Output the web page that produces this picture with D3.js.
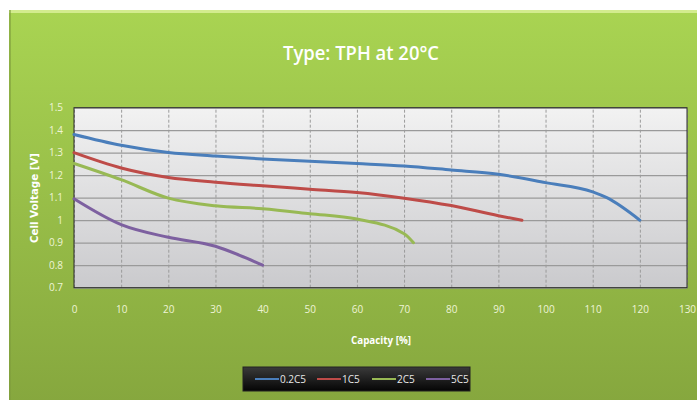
<!DOCTYPE html>
<html><head><meta charset="utf-8">
<script src="https://cdn.jsdelivr.net/npm/d3@7"></script>
<style>html,body{margin:0;padding:0;background:#fff;overflow:hidden}</style>
</head><body><svg id="c" width="697" height="400"></svg>
<script>
const xTicks = [0,10,20,30,40,50,60,70,80,90,100,110,120,130];
const yTicks = [0.7,0.8,0.9,1,1.1,1.2,1.3,1.4,1.5];
const seriesNames = ["0.2C5","1C5","2C5","5C5"];
const seriesColors = ["#4a7ebb","#be4b48","#98b954","#7d60a0"];
const cap02 = [0,10,20,30,40,50,60,70,80,90,100,110,113,120];
const v02   = [1.381,1.333,1.301,1.285,1.272,1.262,1.252,1.241,1.223,1.204,1.167,1.126,1.1,1.0];
const cap1  = [0,10,20,30,40,50,60,70,80,90,95];
const v1    = [1.30,1.232,1.19,1.169,1.153,1.138,1.123,1.098,1.065,1.02,1.0];
const cap2  = [0,10,20,30,40,50,60,70,72];
const v2    = [1.252,1.18,1.098,1.064,1.051,1.029,1.005,0.94,0.9];
const cap5  = [0,10,20,30,35,40];
const v5    = [1.095,0.98,0.924,0.884,0.845,0.80];

const svg = d3.select("#c");
const defs = svg.append("defs");
const g1 = defs.append("linearGradient").attr("id","bg").attr("x1",0).attr("y1",0).attr("x2",0).attr("y2",1);
g1.append("stop").attr("offset","0").attr("stop-color","#a9d452");
g1.append("stop").attr("offset","1").attr("stop-color","#86a73e");
const g2 = defs.append("linearGradient").attr("id","pa").attr("x1",0).attr("y1",0).attr("x2",0).attr("y2",1);
g2.append("stop").attr("offset","0").attr("stop-color","#f2f2f2");
g2.append("stop").attr("offset","1").attr("stop-color","#cacacd");
const g3 = defs.append("linearGradient").attr("id","lg").attr("x1",0).attr("y1",0).attr("x2",0).attr("y2",1);
g3.append("stop").attr("offset","0").attr("stop-color","#3a3a3a");
g3.append("stop").attr("offset","1").attr("stop-color","#050505");

// panel
svg.append("rect").attr("x",9).attr("y",10).attr("width",690).attr("height",392).attr("fill","url(#bg)");
svg.append("rect").attr("x",9).attr("y",10).attr("width",690).attr("height",3).attr("fill","#d3ec8e");
svg.append("rect").attr("x",9).attr("y",10).attr("width",2).attr("height",392).attr("fill","#7f9c3c").attr("opacity",0.6);

const L=74, R=687, T=107.7, B=287.7;
const x = d3.scaleLinear().domain([0,130]).range([L,R]);
const y = d3.scaleLinear().domain([0.7,1.5]).range([B,T]);

svg.append("rect").attr("x",L).attr("y",T).attr("width",R-L).attr("height",B-T).attr("fill","url(#pa)");

// grid
const gy = svg.append("g").attr("transform",`translate(${L},0)`)
  .call(d3.axisLeft(y).tickValues(yTicks).tickSize(-(R-L)).tickFormat(""));
gy.select(".domain").remove();
gy.selectAll("line").attr("stroke","#9a9a9a").attr("stroke-width",1.3);
const gx = svg.append("g").attr("transform",`translate(0,${B})`)
  .call(d3.axisBottom(x).tickValues(xTicks).tickSize(-(B-T)).tickFormat(""));
gx.select(".domain").remove();
gx.selectAll("line").attr("stroke","#9a9a9a").attr("stroke-width",1).attr("stroke-dasharray","3,2");

svg.append("rect").attr("x",L).attr("y",T).attr("width",R-L).attr("height",B-T)
  .attr("fill","none").attr("stroke","#2a2a2a").attr("stroke-width",1);

// tick labels
const lblColor = "#eef4d6";
const ax = svg.append("g").attr("transform",`translate(0,${B+25})`)
  .call(d3.axisBottom(x).tickValues(xTicks).tickSize(0).tickPadding(0).tickFormat(d3.format("d")));
ax.select(".domain").remove();
ax.selectAll("text").attr("fill",lblColor).attr("font-family","Open Sans, sans-serif").attr("font-size",10).attr("dy","0");
const ay = svg.append("g").attr("transform",`translate(${L-11},0)`)
  .call(d3.axisLeft(y).tickValues(yTicks).tickSize(0).tickPadding(0).tickFormat(d=>String(d)));
ay.select(".domain").remove();
ay.selectAll("text").attr("fill",lblColor).attr("font-family","Open Sans, sans-serif").attr("font-size",10);

// lines
const line = d3.line().x(d=>x(d[0])).y(d=>y(d[1])).curve(d3.curveMonotoneX);
const data = [[cap02,v02],[cap1,v1],[cap2,v2],[cap5,v5]];
data.forEach((s,i)=>{
  svg.append("path").datum(s[0].map((c,j)=>[c,s[1][j]]))
    .attr("d",line).attr("fill","none").attr("stroke",seriesColors[i]).attr("stroke-width",3)
    .attr("stroke-linecap","round").attr("stroke-linejoin","round");
});

// titles
svg.append("text").attr("x",361).attr("y",60).attr("text-anchor","middle")
  .attr("fill","#ffffff").attr("font-family","Open Sans, sans-serif").attr("font-weight",600)
  .attr("font-size",19).attr("textLength",156).attr("lengthAdjust","spacingAndGlyphs")
  .text("Type: TPH at 20°C");
svg.append("text").attr("x",381).attr("y",344).attr("text-anchor","middle")
  .attr("fill","#ffffff").attr("font-family","Open Sans, sans-serif").attr("font-weight",700)
  .attr("font-size",10).attr("textLength",60).attr("lengthAdjust","spacingAndGlyphs")
  .text("Capacity [%]");
svg.append("text").attr("transform","translate(38,198) rotate(-90)").attr("text-anchor","middle")
  .attr("fill","#ffffff").attr("font-family","DejaVu Sans, sans-serif").attr("font-weight",700)
  .attr("font-size",10).attr("textLength",90).attr("lengthAdjust","spacingAndGlyphs")
  .text("Cell Voltage [V]");

// legend
svg.append("rect").attr("x",243).attr("y",367).attr("width",227).attr("height",24)
  .attr("fill","url(#lg)").attr("stroke","#222");
const lx = [255,317,372,426];
seriesNames.forEach((n,i)=>{
  svg.append("line").attr("x1",lx[i]).attr("x2",lx[i]+24).attr("y1",379).attr("y2",379)
    .attr("stroke",seriesColors[i]).attr("stroke-width",2);
  svg.append("text").attr("x",lx[i]+25).attr("y",383).attr("fill","#e8e8e8")
    .attr("font-family","Open Sans, sans-serif").attr("font-size",10).text(n);
});
</script></body></html>
